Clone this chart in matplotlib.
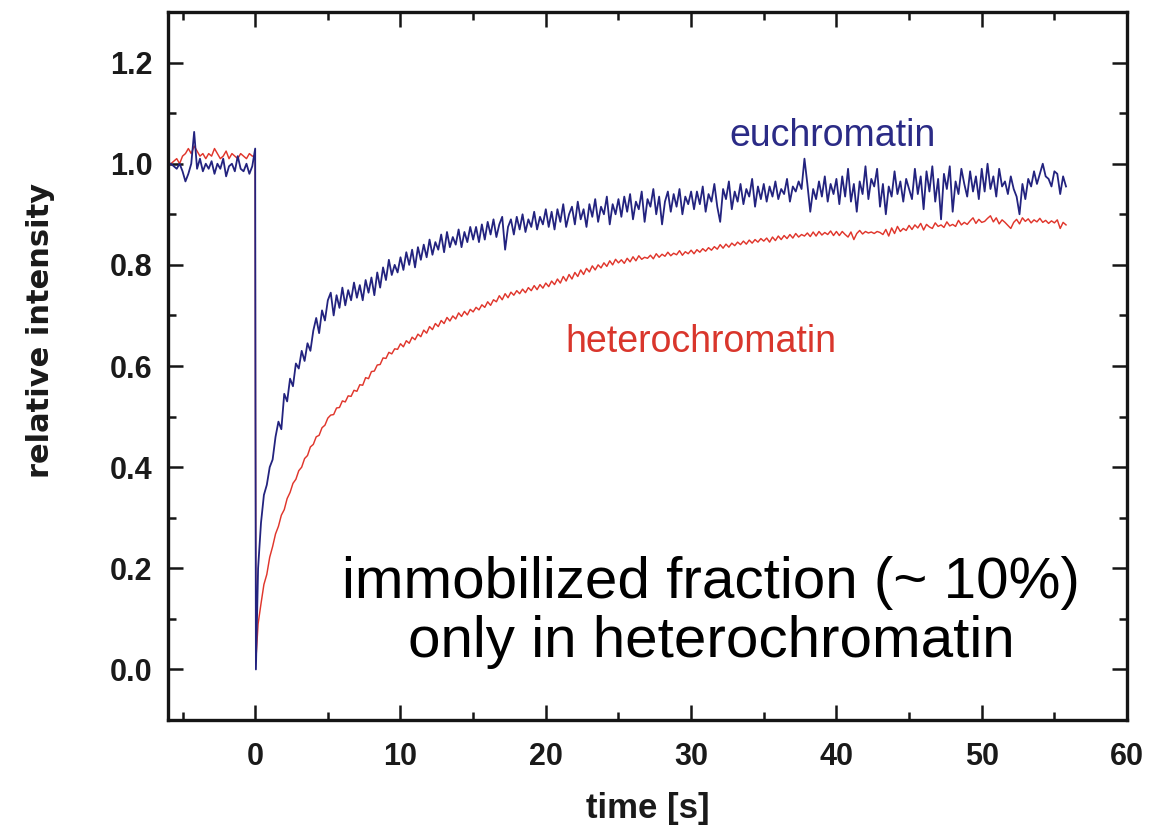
import numpy as np
import matplotlib
matplotlib.use("Agg")
import matplotlib.pyplot as plt
from matplotlib.ticker import MultipleLocator

# ---------------- data ----------------
sample_interval = 0.2          # s
pre_start = -5.8               # s

# pre-bleach, t = -5.8 ... -0.2 s
blue_pre = [1.00, 0.995, 0.99, 1.00, 0.985, 0.965, 0.98, 1.00, 1.063, 0.99,
            1.01, 0.985, 1.00, 0.99, 1.005, 0.98, 1.00, 0.99, 1.01, 0.975,
            0.995, 1.00, 0.985, 1.015, 0.99, 0.985, 1.00, 0.98, 0.995]
red_pre = [1.00, 1.005, 1.01, 1.00, 1.015, 1.02, 1.03, 1.02, 1.035, 1.025,
           1.015, 1.02, 1.01, 1.02, 1.015, 1.03, 1.02, 1.01, 1.015, 1.025,
           1.01, 1.02, 1.015, 1.01, 1.02, 1.015, 1.01, 1.02, 1.015]

# bleach frames
bleach_time = [0.0, 0.02, 0.05]
blue_bleach = [1.03, 0.52, 0.0]
red_bleach = [1.015, 0.50, 0.02]

# recovery, t = 0.2 ... s (every 0.2 s)
blue_post = [
    0.20, 0.29, 0.345, 0.365, 0.40, 0.415, 0.46, 0.49, 0.475, 0.545, 0.53, 0.575, 0.56, 0.605, 0.595, 0.63, 0.61, 0.645, 0.63, 0.67, 0.695, 0.665, 0.71, 0.69, 0.73,
    0.745, 0.70, 0.74, 0.715, 0.755, 0.72, 0.75, 0.73, 0.765, 0.735, 0.76, 0.73, 0.77, 0.745, 0.775, 0.74, 0.785, 0.755, 0.795, 0.77, 0.81, 0.78, 0.80, 0.785, 0.815,
    0.79, 0.825, 0.80, 0.83, 0.795, 0.835, 0.81, 0.84, 0.815, 0.85, 0.82, 0.845, 0.83, 0.86, 0.825, 0.865, 0.835, 0.855, 0.84, 0.87, 0.835, 0.865, 0.845, 0.875, 0.85,
    0.875, 0.845, 0.88, 0.85, 0.885, 0.86, 0.89, 0.855, 0.88, 0.895, 0.83, 0.875, 0.89, 0.86, 0.895, 0.87, 0.90, 0.865, 0.89, 0.875, 0.905, 0.87, 0.895, 0.88, 0.91,
    0.875, 0.905, 0.87, 0.91, 0.885, 0.92, 0.875, 0.90, 0.915, 0.88, 0.925, 0.89, 0.91, 0.875, 0.92, 0.895, 0.93, 0.885, 0.915, 0.90, 0.935, 0.88, 0.92, 0.90, 0.93,
    0.895, 0.935, 0.905, 0.94, 0.89, 0.925, 0.91, 0.945, 0.885, 0.93, 0.915, 0.95, 0.90, 0.935, 0.88, 0.925, 0.945, 0.905, 0.94, 0.915, 0.95, 0.90, 0.935, 0.92, 0.945,
    0.91, 0.945, 0.92, 0.955, 0.905, 0.94, 0.925, 0.96, 0.915, 0.885, 0.95, 0.93, 0.965, 0.91, 0.945, 0.925, 0.96, 0.92, 0.95, 0.935, 0.97, 0.915, 0.955, 0.93, 0.96,
    0.925, 0.955, 0.935, 0.965, 0.93, 0.95, 0.94, 0.97, 0.925, 0.955, 0.945, 0.965, 0.95, 1.01, 0.96, 0.905, 0.95, 0.93, 0.965, 0.935, 0.975, 0.925, 0.96, 0.94, 0.97,
    0.92, 0.975, 0.935, 0.99, 0.925, 0.96, 0.905, 0.965, 0.94, 0.995, 0.93, 0.97, 0.955, 0.99, 0.915, 0.96, 0.90, 0.955, 0.935, 0.985, 0.94, 0.965, 0.925, 0.97, 0.95,
    0.93, 0.99, 0.94, 0.975, 0.91, 0.985, 0.945, 0.995, 0.925, 0.97, 0.89, 0.98, 0.95, 0.995, 0.905, 0.965, 0.94, 0.99, 0.96, 0.935, 0.985, 0.945, 0.975, 0.93, 0.99,
    0.945, 1.00, 0.95, 0.975, 0.935, 0.99, 0.955, 0.965, 0.94, 0.975, 0.95, 0.935, 0.90, 0.96, 0.93, 0.97, 0.955, 0.985, 0.96, 0.98, 1.00, 0.975, 0.97, 0.955, 0.985,
    0.98, 0.94, 0.975, 0.955,
]
red_post = [
    0.09, 0.13, 0.168, 0.188, 0.222, 0.243, 0.268, 0.283, 0.305, 0.316, 0.338, 0.35, 0.368, 0.376, 0.393, 0.40, 0.417, 0.423, 0.44, 0.445, 0.46, 0.463, 0.478, 0.483, 0.497,
    0.503, 0.504, 0.517, 0.518, 0.531, 0.529, 0.541, 0.54, 0.552, 0.55, 0.563, 0.562, 0.577, 0.575, 0.589, 0.59, 0.602, 0.603, 0.616, 0.615, 0.627, 0.624, 0.634, 0.633, 0.644,
    0.638, 0.65, 0.645, 0.657, 0.652, 0.663, 0.658, 0.671, 0.665, 0.678, 0.672, 0.684, 0.678, 0.69, 0.684, 0.696, 0.689, 0.699, 0.693, 0.705, 0.698, 0.708, 0.701, 0.712, 0.707,
    0.716, 0.711, 0.721, 0.716, 0.727, 0.72, 0.731, 0.727, 0.739, 0.731, 0.743, 0.735, 0.746, 0.74, 0.749, 0.743, 0.752, 0.745, 0.755, 0.749, 0.759, 0.751, 0.761, 0.754, 0.764,
    0.757, 0.768, 0.761, 0.772, 0.764, 0.777, 0.768, 0.781, 0.772, 0.785, 0.777, 0.79, 0.781, 0.793, 0.786, 0.798, 0.79, 0.80, 0.794, 0.804, 0.797, 0.808, 0.80, 0.811, 0.804,
    0.81, 0.803, 0.813, 0.806, 0.816, 0.808, 0.818, 0.811, 0.815, 0.813, 0.819, 0.812, 0.822, 0.815, 0.821, 0.817, 0.825, 0.818, 0.823, 0.82, 0.828, 0.819, 0.826, 0.822, 0.829,
    0.822, 0.83, 0.825, 0.832, 0.827, 0.834, 0.829, 0.836, 0.831, 0.84, 0.833, 0.841, 0.835, 0.843, 0.838, 0.845, 0.84, 0.847, 0.841, 0.849, 0.843, 0.85, 0.845, 0.852, 0.847,
    0.853, 0.845, 0.855, 0.848, 0.857, 0.85, 0.858, 0.852, 0.86, 0.853, 0.862, 0.855, 0.86, 0.857, 0.863, 0.856, 0.865, 0.857, 0.866, 0.859, 0.864, 0.86, 0.867, 0.858, 0.866,
    0.858, 0.866, 0.86, 0.855, 0.865, 0.85, 0.862, 0.868, 0.861, 0.866, 0.863, 0.865, 0.862, 0.866, 0.864, 0.86, 0.87, 0.857, 0.873, 0.862, 0.876, 0.866, 0.872, 0.868, 0.878,
    0.87, 0.879, 0.873, 0.882, 0.869, 0.88, 0.875, 0.872, 0.883, 0.876, 0.879, 0.874, 0.885, 0.877, 0.88, 0.876, 0.888, 0.879, 0.884, 0.88, 0.887, 0.893, 0.882, 0.89, 0.884,
    0.886, 0.892, 0.897, 0.885, 0.893, 0.881, 0.889, 0.884, 0.878, 0.872, 0.884, 0.89, 0.881, 0.893, 0.886, 0.891, 0.883, 0.889, 0.885, 0.892, 0.884, 0.888, 0.882, 0.887, 0.883,
    0.889, 0.872, 0.884, 0.879,
]

x_ticks = [0, 10, 20, 30, 40, 50, 60]
y_ticks = [0.0, 0.2, 0.4, 0.6, 0.8, 1.0, 1.2]
x_label = "time [s]"
y_label = "relative intensity"
label_eu = "euchromatin"
label_het = "heterochromatin"
note = "immobilized fraction (~ 10%)\nonly in heterochromatin"

# ---------------- assemble series ----------------
def series(pre, bleach, post):
    t_pre = pre_start + sample_interval * np.arange(len(pre))
    t_post = sample_interval * (1 + np.arange(len(post)))
    t = np.concatenate([t_pre, np.array(bleach_time[:len(bleach)]), t_post])
    v = np.concatenate([np.array(pre), np.array(bleach), np.array(post)])
    return t, v

t_red, v_red = series(red_pre, red_bleach, red_post)
t_blue, v_blue = series(blue_pre, blue_bleach, blue_post)

base = "Liberation Sans"

# ---------------- figure ----------------
fig = plt.figure(figsize=(11.74, 8.39), dpi=100)
ax = fig.add_axes([0.1431, 0.1418, 0.8169, 0.8439])

BLUE = "#23237f"
RED = "#e0362c"

ax.plot(t_red, v_red, color=RED, lw=1.05, zorder=2)
ax.plot(t_blue, v_blue, color=BLUE, lw=1.3, zorder=3)

ax.set_xlim(-6, 60)
ax.set_ylim(-0.1, 1.3)
ax.set_xticks(x_ticks)
ax.set_yticks(y_ticks)
ax.xaxis.set_minor_locator(MultipleLocator(5))
ax.yaxis.set_minor_locator(MultipleLocator(0.1))

for s in ax.spines.values():
    s.set_linewidth(2.4)
    s.set_color("#151515")

ax.tick_params(which="both", direction="in", top=True, right=True,
               color="#151515")
ax.tick_params(which="major", length=11, width=1.8)
ax.tick_params(which="minor", length=6, width=1.8)
ax.tick_params(axis="y", which="major", pad=11)
ax.tick_params(axis="x", which="major", pad=16)

ax.set_yticklabels([f"{v:.1f}" for v in y_ticks], fontsize=22,
                   fontweight="bold", family=base, color="#1a1a1a")
ax.set_xticklabels([str(v) for v in x_ticks], fontsize=22,
                   fontweight="bold", family=base, color="#1a1a1a")

ax.set_xlabel(x_label, fontsize=25, fontweight="bold", family=base,
              color="#1a1a1a")
ax.xaxis.set_label_coords(0.5, -0.1017)
ax.set_ylabel(y_label, fontsize=22, fontweight="bold", family="DejaVu Sans",
              color="#1a1a1a")
ax.yaxis.set_label_coords(-0.118, 0.55)

ax.text(0.6934, 0.8107, label_eu, transform=ax.transAxes, ha="center",
        va="baseline", fontsize=27, family=base, color="#2b2b86")
ax.text(0.5558, 0.52, label_het, transform=ax.transAxes, ha="center",
        va="baseline", fontsize=27, family=base, color="#d9362c")
ax.text(0.566, 0.1525, note, transform=ax.transAxes, ha="center",
        va="center", multialignment="center", fontsize=42, family=base,
        color="black", linespacing=1.12)

fig.savefig("out.png", dpi=100)
